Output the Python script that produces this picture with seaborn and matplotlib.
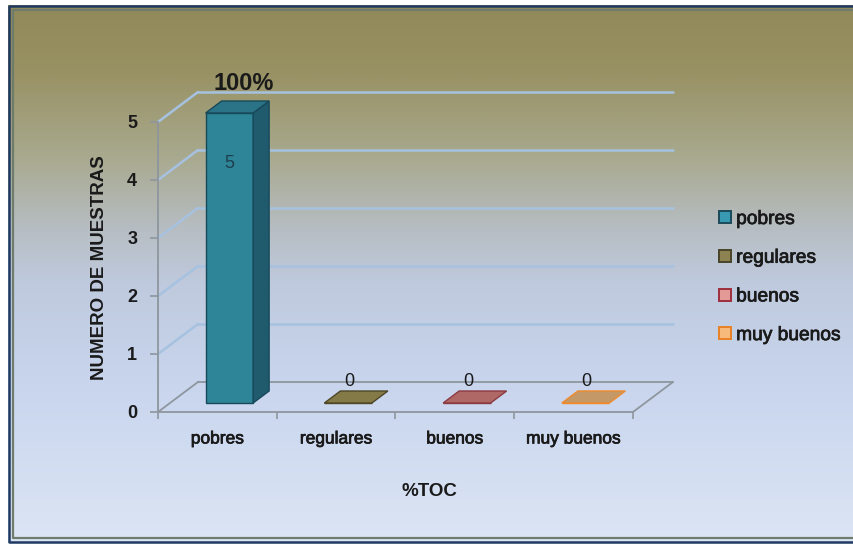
import matplotlib
matplotlib.use("Agg")
import numpy as np
import pandas as pd
import matplotlib.pyplot as plt
import matplotlib.patheffects as pe
import seaborn as sns
from matplotlib.patches import Polygon
from matplotlib.lines import Line2D
from matplotlib.transforms import ScaledTranslation
from matplotlib.colors import LinearSegmentedColormap

# ---- datos ----
categorias = ["pobres", "regulares", "buenos", "muy buenos"]
muestras = [5, 0, 0, 0]
y_ticks = [0, 1, 2, 3, 4, 5]
titulo_x = "%TOC"
titulo_y = "NUMERO DE MUESTRAS"

# ---- colores ----
color_frente = ["#2E8598", "#7F7545", "#AE6664", "#C4966A"]
color_lado = ["#1F5B6C", "#5F5733", "#88484A", "#A9774C"]
color_tapa = ["#2B7386", "#847A48", "#B06866", "#C59868"]
color_borde = ["#17495A", "#4D4727", "#8C3A42", "#F08A2A"]
leyenda_relleno = ["#3899B2", "#8D8352", "#E39A97", "#F8BA7A"]
leyenda_borde = ["#1B4A5A", "#4A4428", "#9E2E3D", "#E98125"]
gris_eje = "#8E969E"
azul_rejilla = "#A6C2E0"
texto = "#1A1A1A"

sns.set_theme(style="white")
plt.rcParams["font.family"] = ["Liberation Sans", "DejaVu Sans"]
# trazo fino para dar un peso intermedio al texto normal
grueso = [pe.withStroke(linewidth=0.55, foreground=texto)]

W, H, DPI = 854, 544, 100
fig = plt.figure(figsize=(W / DPI, H / DPI), dpi=DPI)
fig.patch.set_facecolor("white")

# fondo degradado dentro del marco
bg = fig.add_axes([8 / W, 1 - 543 / H, 1.05, (543 - 5) / H], zorder=-10)
stops = [(0.0, "#918959"), (0.12, "#989163"), (0.28, "#A8A98E"),
         (0.42, "#B7BEC4"), (0.52, "#BFCADE"), (0.72, "#C9D6EE"), (1.0, "#DCE5F4")]
cmap = LinearSegmentedColormap.from_list("fondo", stops)
grad = np.linspace(0, 1, 512).reshape(-1, 1)
bg.imshow(grad, aspect="auto", cmap=cmap, extent=[0, 1, 0, 1], origin="upper")
bg.set_axis_off()

# marco doble (abierto por la derecha)
fig.add_artist(Line2D([1.1, 9 / W, 9 / W, 1.1],
                      [1 - 6 / H, 1 - 6 / H, 1 - 542 / H, 1 - 542 / H],
                      color="#1F3A62", lw=1.8, transform=fig.transFigure))
fig.add_artist(Line2D([1.1, 13 / W, 13 / W, 1.1],
                      [1 - 10 / H, 1 - 10 / H, 1 - 538 / H, 1 - 538 / H],
                      color="#6F7C6C", lw=1.6, transform=fig.transFigure))

# ---- ejes principales ----
ax = fig.add_axes([158 / W, 1 - 412 / H, 475 / W, 290 / H])
ax.patch.set_alpha(0)

df = pd.DataFrame({"categoria": categorias, "muestras": muestras})
sns.barplot(data=df, x="categoria", y="muestras", hue="categoria",
            palette=color_frente, width=0.40, saturation=1, legend=False,
            ax=ax, zorder=3)
ax.set_xlim(-0.5, len(categorias) - 0.5)
ax.set_ylim(min(y_ticks), max(y_ticks))

inv_ax = ax.transAxes.inverted()
pared = np.array([40.0, 30.0])       # profundidad de las paredes (px)
bar_off = np.array([12.0, 9.0])       # desplazamiento del frente de la barra
bar_prof = np.array([16.0, 12.0])     # profundidad de la barra


def poly(puntos, **kw):
    pts = inv_ax.transform(np.array(puntos))
    ax.add_patch(Polygon(pts, closed=True, transform=ax.transAxes,
                         clip_on=False, **kw))


def linea(p0, p1, **kw):
    pts = inv_ax.transform(np.array([p0, p1]))
    ax.add_line(Line2D(pts[:, 0], pts[:, 1], transform=ax.transAxes,
                       clip_on=False, **kw))


# paredes: rejilla del fondo y del lateral izquierdo
x0, x1 = ax.get_xlim()
for v in y_ticks:
    fr = ax.transData.transform((x0, v))
    fr_r = ax.transData.transform((x1, v))
    col = gris_eje if v == 0 else azul_rejilla
    lw = 1.3 if v == 0 else 1.8
    linea(fr, fr + pared, color=col, lw=lw, zorder=0.5)
    linea(fr + pared, fr_r + pared, color=col, lw=lw, zorder=0.5)
esq = ax.transData.transform((x1, 0))
linea(esq, esq + pared, color=gris_eje, lw=1.3, zorder=0.5)

# barras con volumen
desplaz = ax.transData + ScaledTranslation(bar_off[0] / DPI, bar_off[1] / DPI,
                                           fig.dpi_scale_trans)
for p in list(ax.patches):
    i = int(round(p.get_x() + p.get_width() / 2))
    p.set_transform(desplaz)
    p.set_clip_on(False)
    p.set_edgecolor(color_borde[i])
    p.set_linewidth(1.0)
    xl, yb = desplaz.transform((p.get_x(), 0))
    xr, yt = desplaz.transform((p.get_x() + p.get_width(), p.get_height()))
    dx, dy = bar_prof
    if p.get_height() > 0:
        poly([(xr, yb), (xr + dx, yb + dy), (xr + dx, yt + dy), (xr, yt)],
             fc=color_lado[i], ec=color_borde[i], lw=1.0, zorder=3)
    poly([(xl, yt), (xr, yt), (xr + dx, yt + dy), (xl + dx, yt + dy)],
         fc=color_tapa[i], ec=color_borde[i], lw=1.0, zorder=3.1)

# etiquetas de datos
total = sum(muestras)
for i, v in enumerate(muestras):
    if v > 0:
        ax.annotate(f"{v}", xy=(i, v), xytext=(12, -42), textcoords="offset pixels",
                    ha="center", va="center", fontsize=13, color="#1E3F50", zorder=5)
        ax.annotate(f"{v / total * 100:.0f}%", xy=(i, v), xytext=(26, 38),
                    textcoords="offset pixels", ha="center", va="center",
                    fontsize=17, fontweight="bold", color=texto, zorder=5)
    else:
        ax.annotate(f"{v}", xy=(i, v), xytext=(13, 31), textcoords="offset pixels",
                    ha="center", va="center", fontsize=13, color=texto, zorder=5)

# ejes y marcas
for s in ["top", "right"]:
    ax.spines[s].set_visible(False)
for s in ["left", "bottom"]:
    ax.spines[s].set_color(gris_eje)
    ax.spines[s].set_linewidth(1.3)
ax.set_yticks(y_ticks)
ax.set_yticklabels([str(t) for t in y_ticks], fontweight="bold")
ax.tick_params(axis="y", left=True, length=6, width=1.2, color=gris_eje,
               pad=9, labelsize=13, labelcolor=texto)
ax.set_xticks(range(len(categorias)))
ax.set_xticklabels(categorias)
for t in ax.get_xticklabels():
    t.set_path_effects(grueso)
ax.set_xticks(np.arange(x0, x1 + 0.01, 1), minor=True)
ax.tick_params(axis="x", which="major", length=0, pad=14, labelsize=12.5,
               labelcolor=texto)
ax.tick_params(axis="x", which="minor", bottom=True, length=5, width=1.2,
               color=gris_eje)
ax.set_xlabel("")
ax.set_ylabel("")

fig.text(429 / W, 1 - 492 / H, titulo_x, ha="center", va="center",
         fontsize=13.5, fontweight="bold", color=texto)
fig.text(100 / W, 1 - 268 / H, titulo_y, ha="center", va="center", rotation=90,
         fontsize=13.5, fontweight="bold", color=texto)

# leyenda
handles = [Line2D([], [], marker="s", ls="", markersize=8,
                  markerfacecolor=leyenda_relleno[i], markeredgecolor=leyenda_borde[i],
                  markeredgewidth=1.4) for i in range(len(categorias))]
leg = fig.legend(handles, categorias, loc="upper left",
                 bbox_to_anchor=(707 / W, 1 - 201 / H), frameon=False,
                 fontsize=13.8, handletextpad=0.12, labelspacing=1.11,
                 handlelength=0.9, borderpad=0, labelcolor=texto)
for t in leg.get_texts():
    t.set_path_effects(grueso)

fig.savefig("out.png", dpi=DPI)
